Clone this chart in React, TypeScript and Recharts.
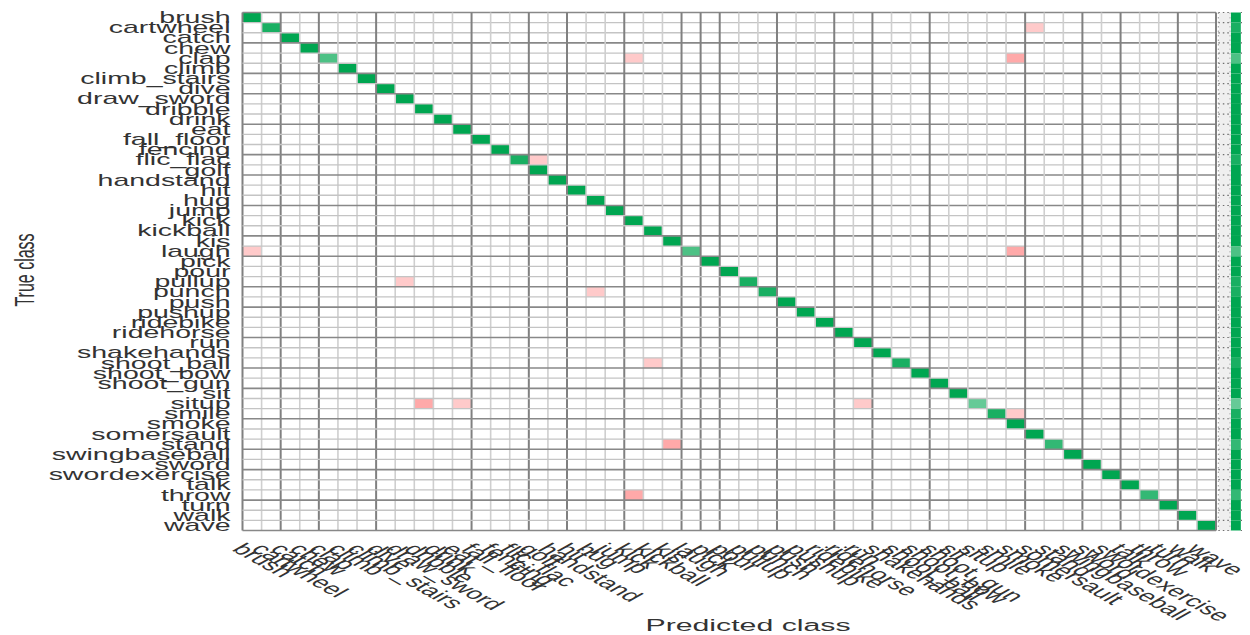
import { ComposedChart, XAxis, YAxis, ReferenceArea, ReferenceLine, Label } from 'recharts';

const classes = [
  'brush', 'cartwheel', 'catch', 'chew', 'clap', 'climb', 'climb_stairs', 'dive', 'draw_sword', 'dribble',
  'drink', 'eat', 'fall_floor', 'fencing', 'flic_flac', 'golf', 'handstand', 'hit', 'hug', 'jump',
  'kick', 'kickball', 'kis', 'laugh', 'pick', 'pour', 'pullup', 'punch', 'push', 'pushup',
  'ridebike', 'ridehorse', 'run', 'shakehands', 'shoot_ball', 'shoot_bow', 'shoot_gun', 'sit', 'situp', 'smile',
  'smoke', 'somersault', 'stand', 'swingbaseball', 'sword', 'swordexercise', 'talk', 'throw', 'turn', 'walk',
  'wave'
];

// share of each true class that is predicted correctly (diagonal)
const correct = [
  1, 0.9, 1, 1, 0.7, 1, 1, 1, 1, 1,
  1, 1, 1, 1, 0.9, 1, 1, 1, 1, 1,
  1, 1, 1, 0.7, 1, 1, 0.9, 0.9, 1, 1,
  1, 1, 1, 1, 0.9, 1, 1, 1, 0.6, 0.9,
  1, 1, 0.8, 1, 1, 1, 1, 0.8, 1, 1,
  1
];

// off-diagonal confusions: true class row, predicted class column, share
const confRow = [1, 4, 4, 14, 23, 23, 26, 27, 34, 38, 38, 38, 39, 42, 47];
const confCol = [41, 20, 40, 15, 0, 40, 8, 18, 21, 9, 11, 32, 40, 22, 20];
const confVal = [0.1, 0.1, 0.2, 0.1, 0.1, 0.2, 0.1, 0.1, 0.1, 0.2, 0.1, 0.1, 0.1, 0.2, 0.2];

// grid lines that come out darker in the picture
const darkCols = [0, 2, 4, 7, 12, 15, 17, 20, 23, 24, 25, 28, 31, 33, 36, 41, 44, 46, 49, 51];
const darkRows = [0, 3, 6, 8, 11, 14, 16, 19, 22, 24, 27, 29, 32, 35, 37, 40, 43, 45, 48, 51];

const N = classes.length;
const XMAX = 52.78;
const SX = 1.78; // the whole figure is stretched sideways
const FONT = '"Liberation Sans", Arial, Helvetica, sans-serif';
const TXT = '#333';

if (typeof document !== 'undefined') document.body.style.overflow = 'hidden';

const green = (v: number) => {
  const w = 1 - v;
  return `rgb(${Math.round(255 * w)},${Math.round(166 + 89 * w)},${Math.round(81 + 174 * w)})`;
};
const pink = (v: number) => {
  const g = Math.round(235 - 330 * v);
  return `rgb(255,${g},${g})`;
};

const centers = classes.map((_, i) => i + 0.5);
const bounds = Array.from({ length: N + 1 }, (_, i) => i);

function YTick({ x, y, payload }: any) {
  return (
    <g transform={`translate(${x},${y}) scale(${SX},1)`}>
      <text textAnchor="end" dy="0.35em" fontSize={16} fill={TXT} fontFamily={FONT}>
        {classes[Math.floor(payload.value)]}
      </text>
    </g>
  );
}

function XTick({ x, y, payload }: any) {
  return (
    <g transform={`translate(${x - 21},${y + 17.5}) scale(${SX},1) rotate(45)`}>
      <text textAnchor="start" fontSize={16} fill={TXT} fontFamily={FONT}>
        {classes[Math.floor(payload.value)]}
      </text>
    </g>
  );
}

export default function App() {
  const cells = [];
  classes.forEach((_, i) => {
    cells.push(
      <ReferenceArea key={`d${i}`} x1={i} x2={i + 1} y1={i} y2={i + 1}
        fill={green(correct[i])} fillOpacity={1} stroke="none" ifOverflow="visible" />
    );
  });
  confRow.forEach((r, k) => {
    cells.push(
      <ReferenceArea key={`c${k}`} x1={confCol[k]} x2={confCol[k] + 1} y1={r} y2={r + 1}
        fill={pink(confVal[k])} fillOpacity={1} stroke="none" ifOverflow="visible" />
    );
  });

  // side strip: accuracy and error per true class
  const side = [
    <ReferenceArea key="gray" x1={51.15} x2={51.75} y1={0} y2={N}
      fill="#efefef" fillOpacity={1} stroke="none" ifOverflow="visible" />
  ];
  classes.forEach((_, i) => {
    side.push(
      <ReferenceArea key={`g${i}`} x1={51.78} x2={52.3} y1={i} y2={i + 1}
        fill={green(correct[i])} fillOpacity={1} stroke="none" ifOverflow="visible" />
    );
    if (correct[i] < 1) {
      side.push(
        <ReferenceArea key={`p${i}`} x1={52.42} x2={XMAX} y1={i} y2={i + 1}
          fill={pink(1 - correct[i])} fillOpacity={1} stroke="none" ifOverflow="visible" />
      );
    }
  });

  const lines = [];
  bounds.forEach((b) => {
    const dc = darkCols.includes(b);
    const dr = darkRows.includes(b);
    lines.push(
      <ReferenceLine key={`v${b}`} segment={[{ x: b, y: 0 }, { x: b, y: N }]}
        stroke={dc ? '#808080' : '#cfcfcf'} strokeWidth={dc ? 2 : 1.6} ifOverflow="visible" />
    );
    lines.push(
      <ReferenceLine key={`h${b}`} segment={[{ x: 0, y: b }, { x: N, y: b }]}
        stroke={dr ? '#888888' : '#c4c4c4'} strokeWidth={dr ? 1.7 : 1.4} ifOverflow="visible" />
    );
    lines.push(
      <ReferenceLine key={`s${b}`} segment={[{ x: 51.12, y: b }, { x: 51.76, y: b }]}
        stroke="#6f6f6f" strokeWidth={1.2} strokeDasharray="1.5 3" ifOverflow="visible" />
    );
    lines.push(
      <ReferenceLine key={`t${b}`} segment={[{ x: 52.3, y: b }, { x: XMAX, y: b }]}
        stroke="#6f6f6f" strokeWidth={1.2} strokeDasharray="1.5 3" ifOverflow="visible" />
    );
  });
  lines.push(
    <ReferenceLine key="sv1" segment={[{ x: 51.12, y: 0 }, { x: 51.12, y: N }]}
      stroke="#9a9a9a" strokeWidth={1} strokeDasharray="1.5 3" ifOverflow="visible" />
  );
  lines.push(
    <ReferenceLine key="sv2" segment={[{ x: 51.73, y: 0 }, { x: 51.73, y: N }]}
      stroke="#b0b0b0" strokeWidth={1} strokeDasharray="1.5 3" ifOverflow="visible" />
  );

  return (
    <div style={{ width: 1242, height: 627 }}>
      <ComposedChart width={1242} height={627} data={classes.map((c, i) => ({ c, i }))}
        margin={{ top: 4.5, right: 0, bottom: 0, left: 0 }}>
        <XAxis type="number" dataKey="i" domain={[0, XMAX]} ticks={centers} interval={0}
          allowDataOverflow height={104.5} axisLine={false} tickLine={false} tickSize={0}
          tick={<XTick />}>
          <Label content={() => (
            <g transform={`translate(740,623) scale(${SX},1)`}>
              <text textAnchor="middle" fontSize={17} fill={TXT} fontFamily={FONT}>Predicted class</text>
            </g>
          )} />
        </XAxis>
        <YAxis type="number" domain={[0, N]} reversed ticks={centers} interval={0}
          allowDataOverflow width={234.5} axisLine={false} tickLine={false} tickSize={0}
          tickMargin={12} tick={<YTick />}>
          <Label content={() => (
            <g transform={`translate(26,262) scale(${SX},1) rotate(-90)`}>
              <text textAnchor="middle" fontSize={16} fill={TXT} fontFamily={FONT}>True class</text>
            </g>
          )} />
        </YAxis>
        {cells}
        {side}
        {lines}
      </ComposedChart>
    </div>
  );
}
